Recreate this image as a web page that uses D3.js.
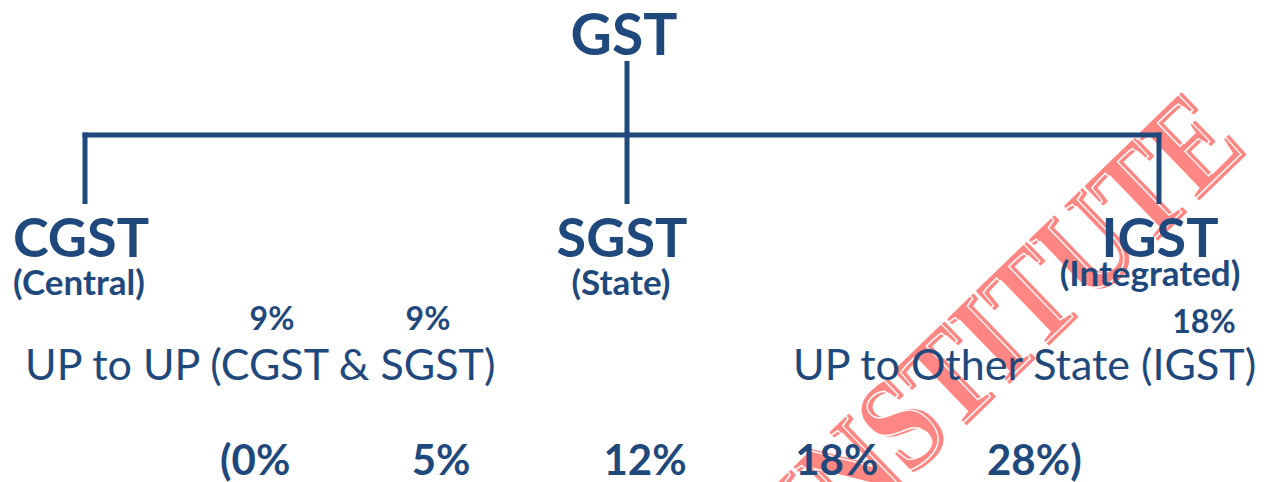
<!DOCTYPE html>
<html>
<head>
<meta charset="utf-8">
<script src="https://cdn.jsdelivr.net/npm/d3@7"></script>
<style>
body{margin:0;background:#fff}
svg{display:block}
</style>
</head>
<body>
<div id="chart"></div>
<script>
// tree content
const rootName = "GST"
const childNames = ["CGST","SGST","IGST"]
const childSubs = ["(Central)","(State)","(Integrated)"]
// rate labels
const cgstSgstRates = ["9%","9%"]
const igstRates = ["18%"]
const routeLabels = ["UP to UP (CGST & SGST)","UP to Other State (IGST)"]
const slabs = ["(0%","5%","12%","18%","28%)"]
const watermarkText = "INSTITUTE"

const W = 1268, H = 482
const blue = "#1f497d"
const pink = "#ff8682"
const font = "Lato, 'Open Sans', sans-serif"
const serif = "'Liberation Serif', 'DejaVu Serif', serif"

const svg = d3.select("#chart").append("svg").attr("width",W).attr("height",H)

// watermark sits behind everything, anchored at the end of the word
const wm = svg.append("g").attr("transform","translate(1250,150) rotate(-44)")
wm.append("text")
    .attr("text-anchor","end")
    .attr("font-family",serif).attr("font-weight",700)
    .attr("font-size",134).attr("fill",pink)
    .attr("stroke",pink).attr("stroke-width",2.5).attr("stroke-linejoin","round")
    .attr("textLength",592).attr("lengthAdjust","spacingAndGlyphs")
    .text(watermarkText)
wm.append("text")
    .attr("text-anchor","end")
    .attr("transform","translate(-3,-3)")
    .attr("font-family",serif).attr("font-weight",700)
    .attr("font-size",134).attr("fill","none").attr("stroke","#fff").attr("stroke-width",1.5)
    .attr("textLength",592).attr("lengthAdjust","spacingAndGlyphs")
    .text(watermarkText)

// tree layout
const xNode = d3.scaleOrdinal().domain(childNames).range([85,627,1159])
const rootX = xNode("SGST")
const yRoot = 61, yBar = 135, yChild = 204

const links = svg.append("g").attr("stroke",blue).attr("stroke-width",5).attr("fill","none")
links.append("line").attr("x1",rootX).attr("x2",rootX).attr("y1",yRoot).attr("y2",yBar)
links.append("line")
    .attr("x1",xNode(childNames[0])-2.5).attr("x2",xNode(childNames[2])+2.5)
    .attr("y1",yBar).attr("y2",yBar)
links.selectAll("line.child").data(childNames).enter().append("line")
    .attr("class","child")
    .attr("x1",d=>xNode(d)).attr("x2",d=>xNode(d))
    .attr("y1",yBar-2.5).attr("y2",yChild)

svg.append("text")
    .attr("x",rootX-3).attr("y",55)
    .attr("text-anchor","middle").attr("font-family",font).attr("font-weight",700)
    .attr("font-size",57).attr("fill",blue)
    .text(rootName)

const nameDx = [-4,-5,1]
const subDx = [-6,-6,-9]
const subY = [295,295,286]
svg.selectAll("text.node").data(childNames).enter().append("text")
    .attr("class","node")
    .attr("x",(d,i)=>xNode(d)+nameDx[i]).attr("y",257)
    .attr("text-anchor","middle").attr("font-family",font).attr("font-weight",700)
    .attr("font-size",54).attr("fill",blue)
    .text(d=>d)
svg.selectAll("text.sub").data(childSubs).enter().append("text")
    .attr("class","sub")
    .attr("x",(d,i)=>xNode(childNames[i])+subDx[i]).attr("y",(d,i)=>subY[i])
    .attr("text-anchor","middle").attr("font-family",font).attr("font-weight",700)
    .attr("font-size",35).attr("fill",blue)
    .text(d=>d)

// split rates above the routes
const xSplit = d3.scalePoint().domain(d3.range(cgstSgstRates.length)).range([272,428])
svg.selectAll("text.split").data(cgstSgstRates).enter().append("text")
    .attr("class","split")
    .attr("x",(d,i)=>xSplit(i)).attr("y",330)
    .attr("text-anchor","middle").attr("font-family",font).attr("font-weight",700)
    .attr("font-size",32).attr("fill",blue)
    .text(d=>d)
svg.selectAll("text.igst").data(igstRates).enter().append("text")
    .attr("class","igst")
    .attr("x",1204).attr("y",333)
    .attr("text-anchor","middle").attr("font-family",font).attr("font-weight",700)
    .attr("font-size",32).attr("fill",blue)
    .text(d=>d)

const routeX = [25,793]
svg.selectAll("text.route").data(routeLabels).enter().append("text")
    .attr("class","route")
    .attr("x",(d,i)=>routeX[i]).attr("y",380)
    .attr("font-family",font).attr("font-weight",400)
    .attr("font-size",43).attr("fill",blue)
    .text(d=>d)

// GST slabs
const xSlab = d3.scalePoint().domain(slabs).range([220,987])
svg.selectAll("text.slab").data(slabs).enter().append("text")
    .attr("class","slab")
    .attr("x",d=>xSlab(d)).attr("y",475)
    .attr("font-family",font).attr("font-weight",700)
    .attr("font-size",42).attr("fill",blue)
    .text(d=>d)
</script>
</body>
</html>
